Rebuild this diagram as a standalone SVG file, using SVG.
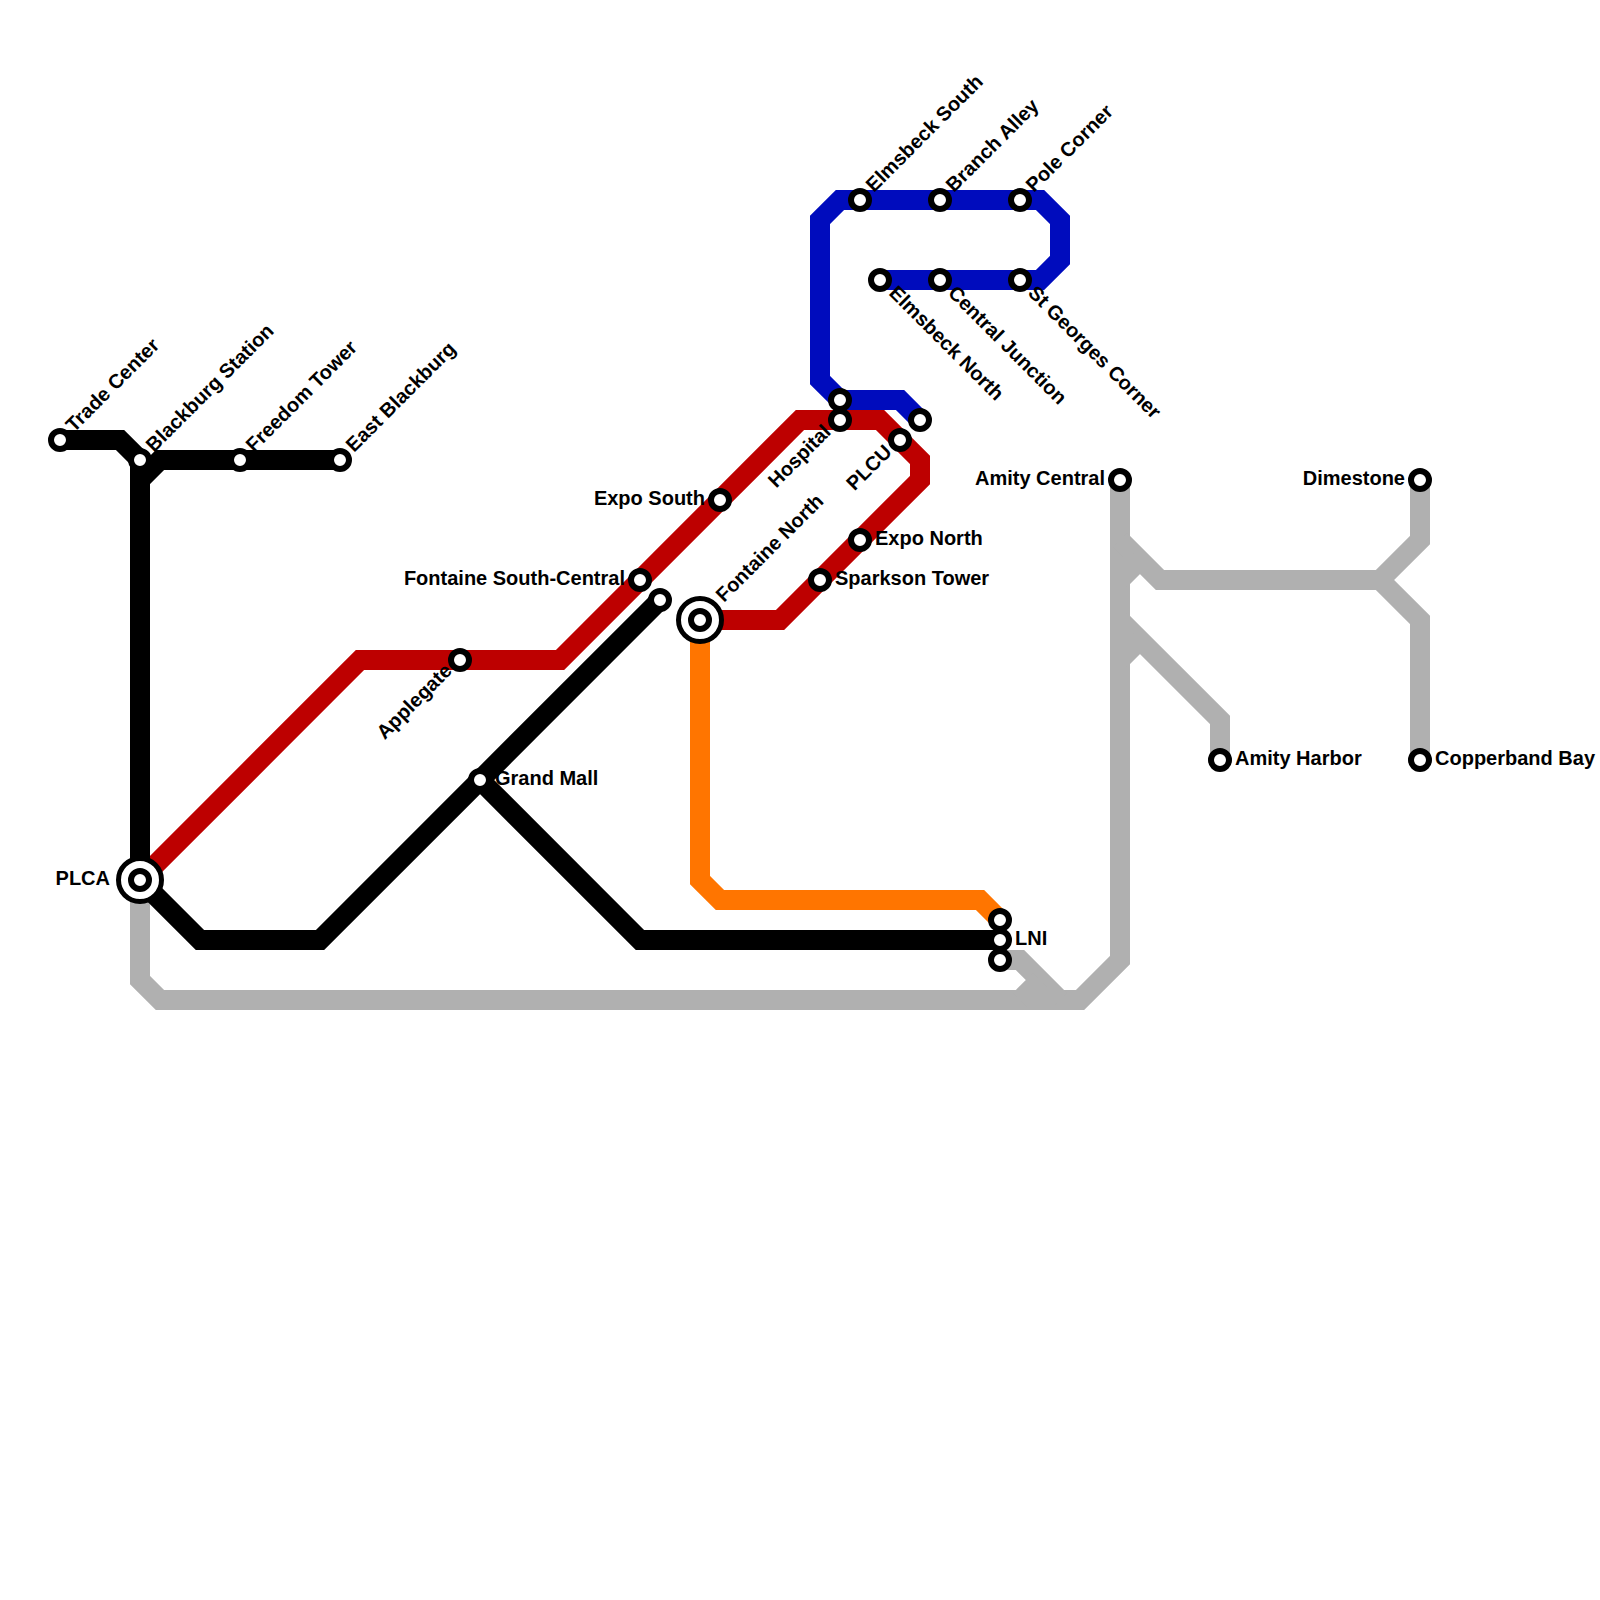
<svg xmlns="http://www.w3.org/2000/svg" width="1600" height="1600" viewBox="0 0 1600 1600">
<style>
.l{fill:none;stroke-width:20;stroke-linejoin:miter;stroke-linecap:butt}
.gray{stroke:#b0b0b0}.black{stroke:#000}.red{stroke:#bd0000}.orange{stroke:#ff7500}.blue{stroke:#000cbd}
.s{fill:#fff;stroke:#000;stroke-width:6}
.o{fill:#fff;stroke:#000;stroke-width:5}
text{font-family:"Liberation Sans",Arial,sans-serif;font-weight:700;font-size:20px;fill:#000}
.e{text-anchor:end}
</style>
<rect width="1600" height="1600" fill="#fff"/>
<g id="connectors">
<path class="l gray" d="M140 880V980L160 1000H1080L1120 960V480"/>
<path class="l gray" d="M1000 960H1020L1060 1000"/>
<path class="l gray" d="M1020 1000L1040 980"/>
<path class="l gray" d="M1120 540L1160 580H1380"/>
<path class="l gray" d="M1120 580L1140 560"/>
<path class="l gray" d="M1120 620L1220 720V760"/>
<path class="l gray" d="M1120 660L1140 640"/>
<path class="l gray" d="M1420 480V540L1380 580L1420 620V760"/>
<path class="l orange" d="M700 620V880L720 900H980L1000 920"/>
<path class="l red" d="M140 880L360 660H560L800 420H880L920 460V480L780 620H700"/>
<path class="l blue" d="M840 400L820 380V220L840 200H1040L1060 220V260L1040 280H880"/>
<path class="l blue" d="M840 400H900L920 420"/>
<path class="l black" d="M60 440H120L140 460V880L200 940H320L660 600"/>
<path class="l black" d="M340 460H160L140 480"/>
<path class="l black" d="M480 780L640 940H1000"/>
</g>
<g id="n-trade-center"><circle class="s" cx="60" cy="440" r="9"/><text transform="translate(74 433) rotate(-45)">Trade Center</text></g>
<g id="n-blackburg-station"><circle class="s" cx="140" cy="460" r="9"/><text transform="translate(154 453) rotate(-45)">Blackburg Station</text></g>
<g id="n-freedom-tower"><circle class="s" cx="240" cy="460" r="9"/><text transform="translate(254 453) rotate(-45)">Freedom Tower</text></g>
<g id="n-east-blackburg"><circle class="s" cx="340" cy="460" r="9"/><text transform="translate(354 453) rotate(-45)">East Blackburg</text></g>
<g id="n-plca"><circle class="o" cx="140" cy="880" r="21.5"/><circle class="s" cx="140" cy="880" r="9"/><text class="e" x="110" y="885">PLCA</text></g>
<g id="n-applegate"><circle class="s" cx="460" cy="660" r="9"/><text class="e" transform="translate(453 672) rotate(-45)">Applegate</text></g>
<g id="n-grand-mall"><circle class="s" cx="480" cy="780" r="9"/><text x="495" y="785">Grand Mall</text></g>
<g id="n-fontaine-south-central"><circle class="s" cx="640" cy="580" r="9"/><text class="e" x="625" y="585">Fontaine South-Central</text></g>
<g id="n-black-end"><circle class="s" cx="660" cy="600" r="9"/></g>
<g id="n-fontaine-north"><circle class="o" cx="700" cy="620" r="21.5"/><circle class="s" cx="700" cy="620" r="9"/><text transform="translate(724 603) rotate(-45)">Fontaine North</text></g>
<g id="n-expo-south"><circle class="s" cx="720" cy="500" r="9"/><text class="e" x="705" y="505">Expo South</text></g>
<g id="n-hospital-north"><circle class="s" cx="840" cy="400" r="9"/></g>
<g id="n-hospital"><circle class="s" cx="840" cy="420" r="9"/><text class="e" transform="translate(832 433) rotate(-45)">Hospital</text></g>
<g id="n-blue-end"><circle class="s" cx="920" cy="420" r="9"/></g>
<g id="n-plcu"><circle class="s" cx="900" cy="440" r="9"/><text class="e" transform="translate(893 453) rotate(-45)">PLCU</text></g>
<g id="n-expo-north"><circle class="s" cx="860" cy="540" r="9"/><text x="875" y="545">Expo North</text></g>
<g id="n-sparkson-tower"><circle class="s" cx="820" cy="580" r="9"/><text x="835" y="585">Sparkson Tower</text></g>
<g id="n-elmsbeck-south"><circle class="s" cx="860" cy="200" r="9"/><text transform="translate(874 193) rotate(-45)">Elmsbeck South</text></g>
<g id="n-branch-alley"><circle class="s" cx="940" cy="200" r="9"/><text transform="translate(954 193) rotate(-45)">Branch Alley</text></g>
<g id="n-pole-corner"><circle class="s" cx="1020" cy="200" r="9"/><text transform="translate(1034 193) rotate(-45)">Pole Corner</text></g>
<g id="n-elmsbeck-north"><circle class="s" cx="880" cy="280" r="9"/><text transform="translate(888 294) rotate(45)">Elmsbeck North</text></g>
<g id="n-central-junction"><circle class="s" cx="940" cy="280" r="9"/><text transform="translate(947 294) rotate(45)">Central Junction</text></g>
<g id="n-st-georges-corner"><circle class="s" cx="1020" cy="280" r="9"/><text transform="translate(1027 294) rotate(45)">St Georges Corner</text></g>
<g id="n-lni-top"><circle class="s" cx="1000" cy="920" r="9"/></g>
<g id="n-lni-bottom"><circle class="s" cx="1000" cy="960" r="9"/></g>
<g id="n-lni"><circle class="s" cx="1000" cy="940" r="9"/><text x="1015" y="945">LNI</text></g>
<g id="n-amity-central"><circle class="s" cx="1120" cy="480" r="9"/><text class="e" x="1105" y="485">Amity Central</text></g>
<g id="n-dimestone"><circle class="s" cx="1420" cy="480" r="9"/><text class="e" x="1405" y="485">Dimestone</text></g>
<g id="n-amity-harbor"><circle class="s" cx="1220" cy="760" r="9"/><text x="1235" y="765">Amity Harbor</text></g>
<g id="n-copperband-bay"><circle class="s" cx="1420" cy="760" r="9"/><text x="1435" y="765">Copperband Bay</text></g>
</svg>
